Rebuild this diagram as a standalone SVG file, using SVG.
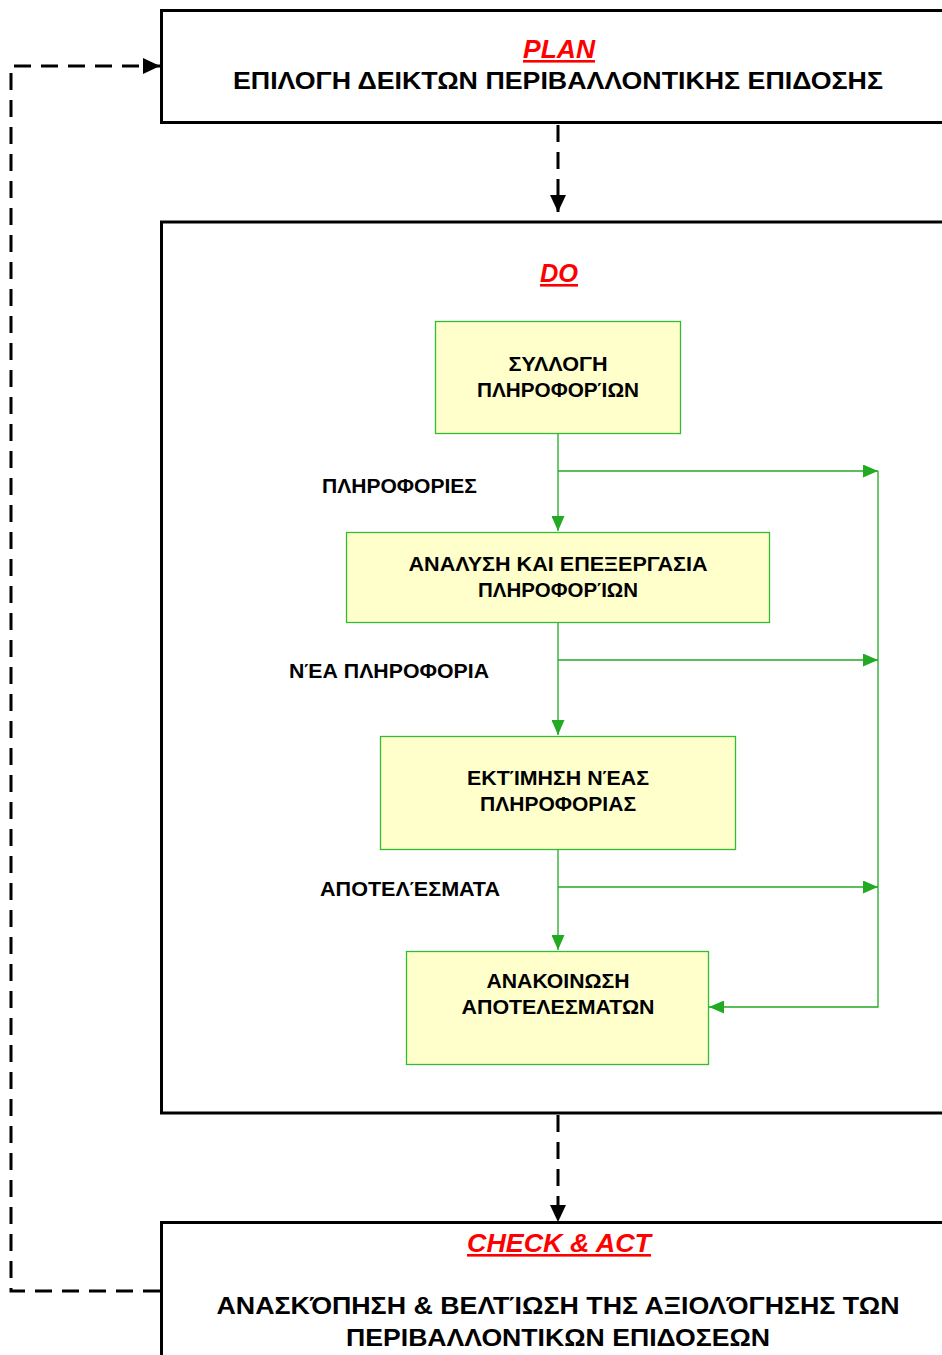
<svg xmlns="http://www.w3.org/2000/svg" width="942" height="1355" viewBox="0 0 942 1355">
  <style>
    .big{fill:#fff;stroke:#000;stroke-width:3}
    .box{fill:#ffffcc;stroke:#33bb33;stroke-width:1.3}
    .lbl{fill:#fff;stroke:none}
    .t{font-family:"Liberation Sans",Arial,sans-serif;font-weight:bold;fill:#000;text-anchor:middle}
    .bx{font-size:20.5px}
    .h{font-size:24px}
    .red{font-family:"Liberation Sans",Arial,sans-serif;font-weight:bold;font-style:italic;fill:#ff0000;text-anchor:middle;text-decoration:underline;font-size:26px}
    .dash{fill:none;stroke:#000;stroke-width:3;stroke-dasharray:17 10}
    .g{fill:none;stroke:#22aa22;stroke-width:1.3}
  </style>
  <defs>
    <marker id="ab" markerUnits="userSpaceOnUse" markerWidth="17" markerHeight="16" refX="17" refY="8" orient="auto">
      <path d="M0,0 L17,8 L0,16 z" fill="#000"/>
    </marker>
    <marker id="ag" markerUnits="userSpaceOnUse" markerWidth="15" markerHeight="13" refX="15" refY="6.5" orient="auto">
      <path d="M0,0 L15,6.5 L0,13 z" fill="#22aa22"/>
    </marker>
  </defs>
  <rect x="0" y="0" width="942" height="1355" fill="#fff"/>

  <g id="plan">
    <rect class="big" x="161.5" y="10.5" width="790" height="112"/>
    <text class="red" x="559" y="58" textLength="72" lengthAdjust="spacingAndGlyphs">PLAN</text>
    <text class="t h" x="558" y="89" textLength="650" lengthAdjust="spacingAndGlyphs">ΕΠΙΛΟΓΗ ΔΕΙΚΤΩΝ ΠΕΡΙΒΑΛΛΟΝΤΙΚΗΣ ΕΠΙΔΟΣΗΣ</text>
  </g>

  <g id="do">
    <rect class="big" x="161.5" y="222" width="790" height="891"/>
    <rect class="lbl" x="370" y="245" width="375" height="55"/>
    <text class="red" x="559" y="282" textLength="38" lengthAdjust="spacingAndGlyphs">DO</text>
  </g>

  <g id="check">
    <rect class="big" x="161.5" y="1222.5" width="790" height="150"/>
    <text class="red" x="559" y="1252" textLength="184" lengthAdjust="spacingAndGlyphs">CHECK &amp; ACT</text>
    <text class="t h" x="558" y="1314" textLength="683" lengthAdjust="spacingAndGlyphs">ΑΝΑΣΚΌΠΗΣΗ &amp; ΒΕΛΤΊΩΣΗ ΤΗΣ ΑΞΙΟΛΌΓΗΣΗΣ ΤΩΝ</text>
    <text class="t h" x="558" y="1346" textLength="424" lengthAdjust="spacingAndGlyphs">ΠΕΡΙΒΑΛΛΟΝΤΙΚΩΝ ΕΠΙΔΟΣΕΩΝ</text>
  </g>

  <g id="lbl-info">
    <rect class="lbl" x="275" y="463" width="247" height="47"/>
    <text class="t bx" x="399.5" y="493" textLength="155" lengthAdjust="spacingAndGlyphs">ΠΛΗΡΟΦΟΡΙΕΣ</text>
  </g>
  <g id="lbl-new">
    <rect class="lbl" x="262" y="648" width="259" height="50"/>
    <text class="t bx" x="389" y="678" textLength="200" lengthAdjust="spacingAndGlyphs">ΝΈΑ ΠΛΗΡΟΦΟΡΙΑ</text>
  </g>
  <g id="lbl-res">
    <rect class="lbl" x="290" y="862" width="240" height="55"/>
    <text class="t bx" x="410" y="896" textLength="180" lengthAdjust="spacingAndGlyphs">ΑΠΟΤΕΛΈΣΜΑΤΑ</text>
  </g>

  <g id="n1">
    <rect class="box" x="435.5" y="321.5" width="245" height="112"/>
    <text class="t bx" x="558" y="371" textLength="99" lengthAdjust="spacingAndGlyphs">ΣΥΛΛΟΓΗ</text>
    <text class="t bx" x="558" y="397" textLength="162" lengthAdjust="spacingAndGlyphs">ΠΛΗΡΟΦΟΡΊΩΝ</text>
  </g>
  <g id="n2">
    <rect class="box" x="346.5" y="532.5" width="423" height="90"/>
    <text class="t bx" x="558" y="571" textLength="299" lengthAdjust="spacingAndGlyphs">ΑΝΑΛΥΣΗ ΚΑΙ ΕΠΕΞΕΡΓΑΣΙΑ</text>
    <text class="t bx" x="558" y="597" textLength="160" lengthAdjust="spacingAndGlyphs">ΠΛΗΡΟΦΟΡΊΩΝ</text>
  </g>
  <g id="n3">
    <rect class="box" x="380.5" y="736.5" width="355" height="113"/>
    <text class="t bx" x="558" y="785" textLength="182" lengthAdjust="spacingAndGlyphs">ΕΚΤΊΜΗΣΗ ΝΈΑΣ</text>
    <text class="t bx" x="558" y="811" textLength="156" lengthAdjust="spacingAndGlyphs">ΠΛΗΡΟΦΟΡΙΑΣ</text>
  </g>
  <g id="n4">
    <rect class="box" x="406.5" y="951.5" width="302" height="113"/>
    <text class="t bx" x="558" y="988" textLength="143" lengthAdjust="spacingAndGlyphs">ΑΝΑΚΟΙΝΩΣΗ</text>
    <text class="t bx" x="558" y="1014" textLength="193" lengthAdjust="spacingAndGlyphs">ΑΠΟΤΕΛΕΣΜΑΤΩΝ</text>
  </g>

  <g id="connectors">
    <path class="dash" d="M558,125 V212" marker-end="url(#ab)"/>
    <path class="dash" d="M558,1115 V1222" marker-end="url(#ab)"/>
    <path class="dash" d="M160,1291 H11 V66 H160" marker-end="url(#ab)"/>
    <path class="g" d="M558,434 V531" marker-end="url(#ag)"/>
    <path class="g" d="M558,471 H878" marker-end="url(#ag)"/>
    <path class="g" d="M558,623 V735" marker-end="url(#ag)"/>
    <path class="g" d="M558,660 H878" marker-end="url(#ag)"/>
    <path class="g" d="M558,850 V950" marker-end="url(#ag)"/>
    <path class="g" d="M558,887 H878" marker-end="url(#ag)"/>
    <path class="g" d="M878,471 V1007 H709" marker-end="url(#ag)"/>
  </g>
</svg>
